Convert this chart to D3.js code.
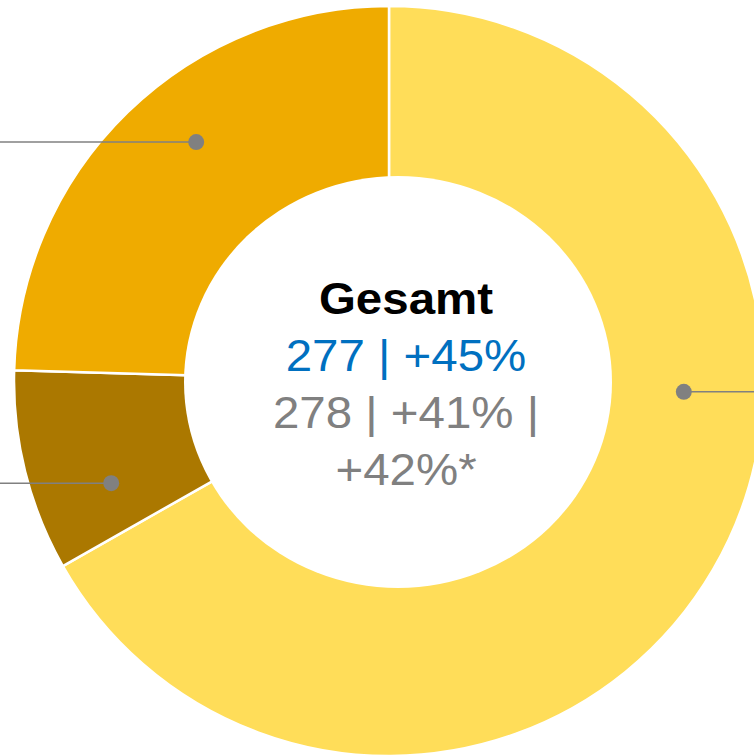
<!DOCTYPE html>
<html lang="de">
<head>
<meta charset="utf-8">
<script src="https://d3js.org/d3.v7.min.js"></script>
<style>
body { margin: 0; padding: 0; background: #fff; }
#chart { width: 754px; height: 755px; overflow: hidden; }
text { font-family: "Liberation Sans", Arial, sans-serif; }
</style>
</head>
<body>
<div id="chart"></div>
<script>
// slice data, clockwise from 12 o'clock (labels sit outside the visible crop)
var segments = ["Segment 1", "Segment 2", "Segment 3"];
var values = [185, 24, 68];
var colors = ["#FFDD59", "#AB7800", "#EFAB00"];

// centre text
var totalTitle = "Gesamt";
var totalLines = ["277 | +45%", "278 | +41% |", "+42%*"];

// where the leader lines leave each slice (deg clockwise from top, radius)
var leaderAngle = [92.1, 249.8, 321.1];
var leaderRadius = [295, 296, 307];
var leaderSide = [1, -1, -1];

var width = 754, height = 755;
var cx = 389, cy = 381;
var outerR = 375;

var svg = d3.select("#chart").append("svg")
    .attr("width", width)
    .attr("height", height);

var pie = d3.pie().sort(null).startAngle(0).endAngle(2 * Math.PI);
var arcs = pie(values);

var arc = d3.arc().innerRadius(0).outerRadius(outerR);

var g = svg.append("g").attr("transform", "translate(" + cx + "," + cy + ")");

g.selectAll("path.slice")
  .data(arcs)
  .enter()
  .append("path")
    .attr("class", "slice")
    .attr("d", arc)
    .style("fill", function(d, i) { return colors[i]; })
    .style("stroke", "white")
    .style("stroke-width", 2.5)
    .style("stroke-linejoin", "round");

// white hole, drawn on top (slightly wider than tall, off the pie centre)
svg.append("ellipse")
    .attr("cx", 398)
    .attr("cy", 382)
    .attr("rx", 214)
    .attr("ry", 206)
    .style("fill", "white");

// leader lines + dots
var leaders = g.selectAll("g.leader")
  .data(arcs)
  .enter()
  .append("g")
    .attr("class", "leader");

leaders.each(function(d, i) {
  var a = leaderAngle[i] * Math.PI / 180;
  var r = leaderRadius[i];
  var p = d3.arc().innerRadius(r).outerRadius(r).startAngle(a).endAngle(a).centroid();
  var xEnd = leaderSide[i] > 0 ? width - cx + 2 : -cx - 2;
  var sel = d3.select(this);
  sel.append("line")
      .attr("x1", p[0]).attr("y1", p[1])
      .attr("x2", xEnd).attr("y2", p[1])
      .style("stroke", "#808080")
      .style("stroke-width", 1.5);
  sel.append("circle")
      .attr("cx", p[0]).attr("cy", p[1])
      .attr("r", 8)
      .style("fill", "#808080");
});

// centre text, slightly stretched horizontally like the source
var tg = svg.append("g")
    .attr("transform", "translate(406,0) scale(1.055,1)");

tg.append("text")
    .attr("x", 0).attr("y", 314)
    .attr("text-anchor", "middle")
    .style("font-size", "45px")
    .style("font-weight", "bold")
    .style("fill", "#000")
    .text(totalTitle);

var lineColors = ["#0070C0", "#808080", "#808080"];
tg.selectAll("text.val")
  .data(totalLines)
  .enter()
  .append("text")
    .attr("class", "val")
    .attr("x", 0)
    .attr("y", function(d, i) { return 371.5 + i * 56.7; })
    .attr("text-anchor", "middle")
    .style("font-size", "45px")
    .style("fill", function(d, i) { return lineColors[i]; })
    .text(function(d) { return d; });
</script>
</body>
</html>
